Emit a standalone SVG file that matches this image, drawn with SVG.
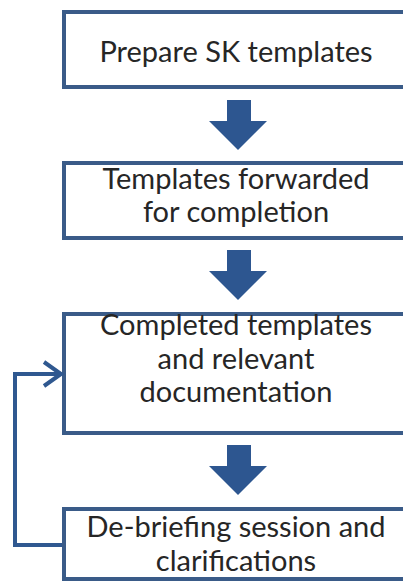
<svg xmlns="http://www.w3.org/2000/svg" width="403" height="581" viewBox="0 0 403 581">
  <style>
    .box { fill: #ffffff; stroke: #3a5b88; stroke-width: 4; }
    .label { font-family: Lato, "Open Sans", "Liberation Sans", sans-serif; font-size: 29px; fill: #262626; text-anchor: middle; }
    .step { fill: #2d5690; }
    .loop { fill: none; stroke: #2f5890; stroke-width: 4; stroke-linejoin: miter; }
  </style>
  <defs>
    <!-- thick downward block arrow between steps -->
    <path id="down" class="step" d="M-11,0 H13 V21 H29 L0,50 L-29,21 H-11 Z"/>
  </defs>
  <rect width="403" height="581" fill="#ffffff"/>

  <g id="node-prepare">
    <rect class="box" x="64" y="12" width="346" height="75"/>
    <text class="label" x="236" y="62">Prepare SK templates</text>
  </g>

  <g id="node-forwarded">
    <rect class="box" x="64" y="163" width="346" height="75"/>
    <text class="label" x="236" y="188.5">Templates forwarded</text>
    <text class="label" x="236" y="222">for completion</text>
  </g>

  <g id="node-completed">
    <rect class="box" x="64" y="314" width="346" height="119"/>
    <text class="label" x="236" y="335">Completed templates</text>
    <text class="label" x="236" y="368.5">and relevant</text>
    <text class="label" x="236" y="402">documentation</text>
  </g>

  <g id="node-debriefing">
    <rect class="box" x="64" y="509" width="346" height="70"/>
    <text class="label" x="236" y="537">De-briefing session and</text>
    <text class="label" x="236" y="570.5">clarifications</text>
  </g>

  <g id="connectors">
    <use href="#down" x="238" y="100"/>
    <use href="#down" x="238" y="250"/>
    <use href="#down" x="238" y="445"/>
    <!-- feedback loop from de-briefing back to completed templates -->
    <path class="loop" d="M62,545 H15 V374 H60"/>
    <path class="loop" d="M44,362 L61,374 L44,386"/>
  </g>
</svg>
